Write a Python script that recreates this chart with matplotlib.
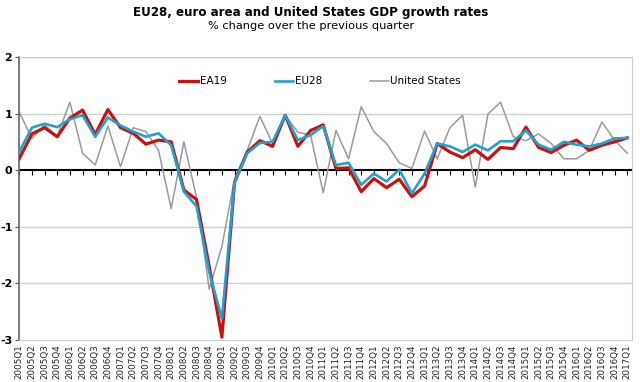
import matplotlib.pyplot as plt
from matplotlib.markers import TICKDOWN

quarters = [f"{y}Q{q}" for y in range(2005, 2017) for q in range(1, 5)] + ["2017Q1"]

ea19 = [0.20, 0.64, 0.75, 0.59, 0.92, 1.06, 0.63, 1.07, 0.75, 0.65,
        0.46, 0.53, 0.50, -0.35, -0.52, -1.70, -2.95, -0.22, 0.32, 0.52,
        0.42, 0.97, 0.42, 0.70, 0.80, 0.03, 0.04, -0.38, -0.15, -0.31,
        -0.16, -0.47, -0.28, 0.47, 0.32, 0.22, 0.36, 0.19, 0.40, 0.38,
        0.76, 0.40, 0.31, 0.44, 0.53, 0.35, 0.44, 0.50, 0.57]
eu28 = [0.32, 0.75, 0.82, 0.76, 0.90, 0.97, 0.59, 0.93, 0.79, 0.68,
        0.59, 0.65, 0.44, -0.38, -0.64, -1.80, -2.62, -0.22, 0.30, 0.48,
        0.50, 0.97, 0.53, 0.62, 0.78, 0.09, 0.13, -0.26, -0.06, -0.20,
        0.01, -0.41, -0.06, 0.47, 0.42, 0.32, 0.45, 0.35, 0.51, 0.51,
        0.70, 0.45, 0.36, 0.50, 0.45, 0.42, 0.47, 0.56, 0.57]
us = [1.03, 0.56, 0.80, 0.60, 1.20, 0.30, 0.09, 0.78, 0.06, 0.75,
      0.68, 0.35, -0.68, 0.50, -0.48, -2.10, -1.35, -0.15, 0.35, 0.95,
      0.47, 0.97, 0.67, 0.62, -0.40, 0.70, 0.20, 1.12, 0.68, 0.47,
      0.13, 0.03, 0.69, 0.20, 0.75, 0.97, -0.30, 0.99, 1.20, 0.59,
      0.52, 0.64, 0.47, 0.20, 0.20, 0.35, 0.85, 0.53, 0.30]

x = list(range(len(quarters)))

fig = plt.figure(figsize=(6.4, 3.82), dpi=100)
ax = fig.add_axes([0.03, 0.11, 0.958, 0.741])

for yv in [-2, -1, 1, 2]:
    ax.axhline(yv, color='#d0d0d0', lw=1, zorder=0)
ax.axhline(0, color='black', lw=1.5, zorder=1)
ax.scatter(x, [0] * len(x), marker=TICKDOWN, s=12, color='black', lw=0.8, zorder=1)

ax.plot(x, us, color='#9a9a9a', lw=1.1, label='United States', zorder=2)
ax.plot(x, ea19, color='#cc1010', lw=2.3, label='EA19', zorder=3)
ax.plot(x, eu28, color='#1ea3cc', lw=1.9, label='EU28', zorder=4)

ax.set_xlim(0, len(x) - 1 + 0.4)
ax.set_ylim(-3, 2)
ax.set_yticks([-3, -2, -1, 0, 1, 2])
ax.set_yticklabels(['-3', '-2', '-1', '0', '1', '2'], fontweight='bold', fontsize=8)
ax.set_xticks(x)
ax.set_xticklabels(quarters, rotation=90, fontsize=6.3, color='#222222')
ax.tick_params(axis='x', length=0, pad=3)
ax.tick_params(axis='y', length=3, color='#555555', pad=2)

for s in ['top', 'right', 'bottom']:
    ax.spines[s].set_color('#cccccc')
ax.spines['left'].set_color('#666666')
ax.spines['left'].set_linewidth(1.2)

handles, labels = ax.get_legend_handles_labels()
order = [1, 2, 0]
ax.legend([handles[i] for i in order], [labels[i] for i in order],
          loc='upper center', bbox_to_anchor=(0.491, 0.965), ncol=3, frameon=False,
          fontsize=7.5, handlelength=1.8, handletextpad=0.15, columnspacing=4.6)

fig.text(0.486, 0.966, 'EU28, euro area and United States GDP growth rates',
         ha='center', va='center', fontsize=8.6, fontweight='bold')
fig.text(0.486, 0.932, '% change over the previous quarter',
         ha='center', va='center', fontsize=8.2)

fig.savefig('out.png', dpi=100)
